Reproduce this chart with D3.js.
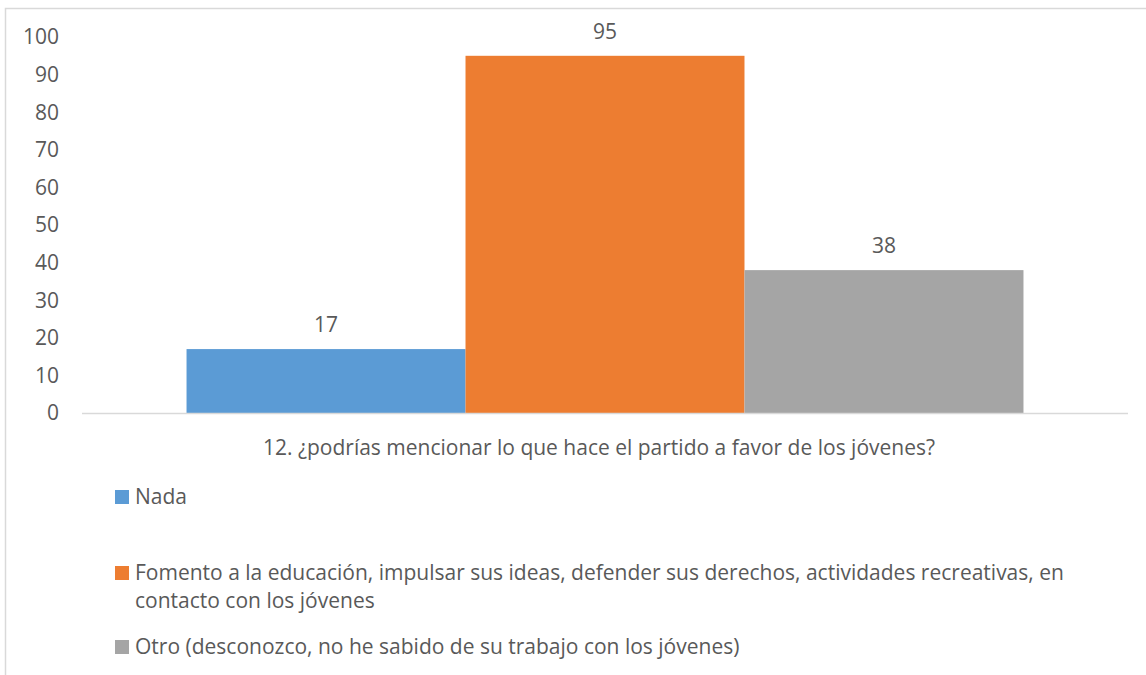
<!DOCTYPE html>
<html>
<head>
<meta charset="utf-8">
<script src="https://cdn.jsdelivr.net/npm/d3@7"></script>
<style>
  body { margin: 0; background: #fff; }
  svg text { font-family: "Open Sans", "Noto Sans", sans-serif; fill: #595959; }
</style>
</head>
<body>
<svg id="chart" width="1146" height="675"></svg>
<script>
// Datos del gráfico
const category = '12. ¿podrías mencionar lo que hace el partido a favor de los jóvenes?';
const series = ['Nada', 'Fomento', 'Otro'];
const values = [17, 95, 38];
const colors = ['#5b9bd5', '#ed7d31', '#a5a5a5'];
const legendLines = [
  ['Nada'],
  ['Fomento a la educación, impulsar sus ideas, defender sus derechos, actividades recreativas, en', 'contacto con los jóvenes'],
  ['Otro (desconozco, no he sabido de su trabajo con los jóvenes)']
];
const yTicks = [0, 10, 20, 30, 40, 50, 60, 70, 80, 90, 100];

const svg = d3.select('#chart');
const FONT = '21px';

// Marco del área del gráfico
svg.append('rect')
  .attr('x', 5.5).attr('y', 8.5)
  .attr('width', 1160).attr('height', 700)
  .attr('fill', 'none')
  .attr('stroke', '#d9d9d9')
  .attr('stroke-width', 1.5);

const plot = { left: 82, right: 1128, top: 37, bottom: 413 };

const y = d3.scaleLinear().domain([0, 100]).range([plot.bottom, plot.top]);
const x = d3.scaleBand().domain(series).range([plot.left, plot.right])
  .paddingInner(0).paddingOuter(0.3747);

// Etiquetas del eje Y
svg.append('g').selectAll('text')
  .data(yTicks)
  .enter()
  .append('text')
  .attr('x', 59)
  .attr('y', d => y(d))
  .attr('dy', '0.35em')
  .attr('text-anchor', 'end')
  .style('font-size', FONT)
  .text(d => d);

// Barras
svg.append('g').selectAll('rect')
  .data(values)
  .enter()
  .append('rect')
  .attr('x', (d, i) => x(series[i]))
  .attr('y', d => y(d))
  .attr('width', x.bandwidth())
  .attr('height', d => y(0) - y(d))
  .attr('fill', (d, i) => colors[i]);

// Etiquetas de valor
svg.append('g').selectAll('text')
  .data(values)
  .enter()
  .append('text')
  .attr('x', (d, i) => x(series[i]) + x.bandwidth() / 2)
  .attr('y', d => y(d) - 24)
  .attr('dy', '0.35em')
  .attr('text-anchor', 'middle')
  .style('font-size', FONT)
  .text(d => d);

// Línea base
svg.append('line')
  .attr('x1', plot.left).attr('x2', plot.right)
  .attr('y1', y(0) + 0.5).attr('y2', y(0) + 0.5)
  .attr('stroke', '#d9d9d9')
  .attr('stroke-width', 1.5);

// Etiqueta de categoría
svg.append('text')
  .attr('x', 599)
  .attr('y', 448)
  .attr('dy', '0.35em')
  .attr('text-anchor', 'middle')
  .style('font-size', FONT)
  .text(category);

// Leyenda
const legendY = [497, 573, 647];
const legend = svg.append('g').selectAll('g')
  .data(legendLines)
  .enter()
  .append('g')
  .attr('transform', (d, i) => `translate(115,${legendY[i]})`);

legend.append('rect')
  .attr('x', 0).attr('y', -7)
  .attr('width', 14).attr('height', 14)
  .attr('fill', (d, i) => colors[i]);

legend.each(function (lines) {
  d3.select(this).selectAll('text')
    .data(lines)
    .enter()
    .append('text')
    .attr('x', 20)
    .attr('y', (d, i) => i * 28)
    .attr('dy', '0.35em')
    .style('font-size', FONT)
    .text(d => d);
});
</script>
</body>
</html>
